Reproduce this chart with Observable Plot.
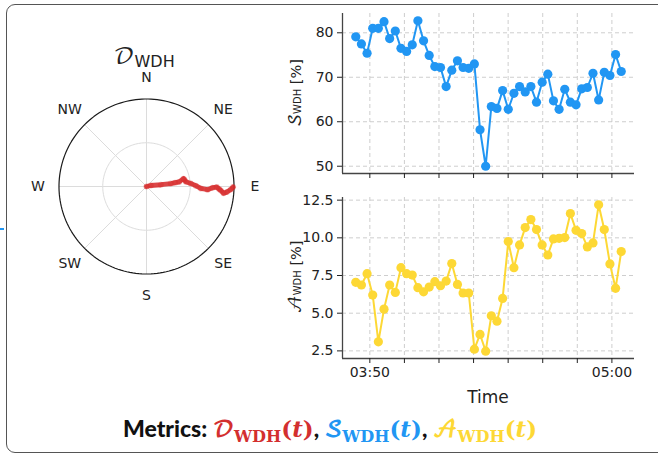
<!DOCTYPE html>
<html><head><meta charset="utf-8">
<script src="https://cdn.jsdelivr.net/npm/d3@7"></script>
<script src="https://cdn.jsdelivr.net/npm/@observablehq/plot@0.6"></script>
<style>
html,body{margin:0;padding:0;background:#fff;}
#root{position:relative;width:658px;height:454px;overflow:hidden;font-family:"DejaVu Sans",sans-serif;color:#222;}
.box{position:absolute;left:6px;top:4px;width:720px;height:449px;border:1.6px solid #555;border-radius:9px;box-sizing:border-box;}
.abs{position:absolute;}
.ctr{transform:translate(-50%,-50%);white-space:nowrap;}
.rot{transform:translate(-50%,-50%) rotate(-90deg);white-space:nowrap;}
.cal{font-family:"DejaVu Math TeX Gyre","Latin Modern Math","STIX Two Math","DejaVu Serif",serif;}
.sub{font-size:0.7em;vertical-align:-0.25em;}
.cap{font-family:Lato,"DejaVu Sans",sans-serif;font-weight:900;font-size:23px;color:#111;}
.cap .m{font-family:"DejaVu Serif",serif;font-weight:bold;}
.cap .m i{font-style:italic;}
</style></head>
<body><div id="root">
<div class="box"></div>
<div class="abs" style="left:0;top:228px;width:4px;height:2px;background:#2196f3;"></div>
<div id="polar" class="abs" style="left:15.7px;top:55.7px;"></div>
<div class="abs ctr" style="left:144px;top:57px;font-size:16px;line-height:1;"><span class="cal" style="font-size:23px;">𝒟</span><span style="position:relative;top:3px;">WDH</span></div>
<div id="top" class="abs" style="left:282px;top:0px;"></div>
<div id="bot" class="abs" style="left:282px;top:185px;"></div>
<div class="abs rot" style="left:297px;top:93px;font-size:14.5px;"><span class="cal" style="font-size:17px;">𝒮</span><span style="font-size:10px;">WDH</span> [%]</div>
<div class="abs rot" style="left:297px;top:277px;font-size:14.5px;"><span class="cal" style="font-size:17px;">𝒜</span><span style="font-size:10px;">WDH</span> [%]</div>
<div class="abs ctr" style="left:488px;top:397px;font-size:17px;">Time</div>
<div class="abs ctr cap" style="left:330px;top:430px;">Metrics: <span style="color:#d32f2f"><span class="cal">𝒟</span><span class="m sub">WDH</span><span class="m">(<i>t</i>)</span></span>, <span style="color:#2196f3"><span class="cal">𝒮</span><span class="m sub">WDH</span><span class="m">(<i>t</i>)</span></span>, <span style="color:#fdd835"><span class="cal">𝒜</span><span class="m sub">WDH</span><span class="m">(<i>t</i>)</span></span></div>
</div>
<script>
// ---- data ----
const times = ["03:45:56","03:47:34","03:49:12","03:50:50","03:52:28","03:54:06","03:55:44","03:57:22","03:59:00","04:00:38",
"04:02:16","04:03:54","04:05:32","04:07:10","04:08:48","04:10:26","04:12:04","04:13:42","04:15:20","04:16:58",
"04:18:36","04:20:14","04:21:52","04:23:30","04:25:08","04:26:46","04:28:24","04:30:02","04:31:40","04:33:18",
"04:34:56","04:36:34","04:38:12","04:39:50","04:41:28","04:43:06","04:44:44","04:46:22","04:48:00","04:49:38",
"04:51:16","04:52:54","04:54:32","04:56:10","04:57:48","04:59:26","05:01:04","05:02:42"];
const sValues = [79.1,77.5,75.4,81.0,81.0,82.5,78.7,80.4,76.5,75.8,77.3,82.7,78.2,74.9,72.4,72.2,67.9,71.6,73.7,72.2,
72.0,73.0,58.2,50.0,63.4,63.0,67.0,62.8,66.4,67.9,66.7,67.9,64.4,68.9,70.7,64.7,62.8,67.3,64.4,63.8,
67.4,67.7,70.9,64.9,71.1,70.4,75.1,71.3];
const aValues = [7.05,6.87,7.62,6.2,3.1,5.27,6.87,6.38,8.02,7.62,7.53,6.69,6.42,6.73,7.09,6.82,7.13,8.29,6.91,6.34,
6.34,2.61,3.59,2.48,4.83,4.47,5.98,9.75,8.02,9.53,10.68,11.21,10.55,9.53,8.86,9.93,9.97,10.02,11.61,10.5,
10.28,9.4,9.66,12.19,10.55,8.27,6.65,9.09];
const xTicks = ["03:50","04:00","04:10","04:20","04:30","04:40","04:50","05:00"];
const xTickLabels = ["03:50","05:00"];
const sTicks = [50,60,70,80];
const aTicks = [2.5,5.0,7.5,10.0,12.5];
const compassLabels = ["N","NE","E","SE","S","SW","W","NW"];
const compassAngles = [0,45,90,135,180,225,270,315];
const traceDir =    [80, 77, 83, 83, 82.5, 82, 78, 80, 83, 86, 89, 92, 93, 91, 90.5, 92, 93, 95, 94, 92, 90.4];
const traceRadius = [0, 0.05, 0.165, 0.28, 0.33, 0.376, 0.432, 0.44, 0.453, 0.507, 0.563, 0.621, 0.698, 0.755, 0.803, 0.83, 0.85, 0.884, 0.92, 0.964, 0.99];

const RED = "#d62728", BLUE = "#2196f3", YELLOW = "#fdd835";

// ---- helpers ----
const parseT = d3.utcParse("%H:%M:%S");
const parseHM = d3.utcParse("%H:%M");
const fmtHM = d3.utcFormat("%H:%M");
const tDates = times.map(parseT);
const tickDates = xTicks.map(parseHM);
const padExt = (ext) => { const s = (ext[1] - ext[0]) * 0.05; return [ext[0] - s, ext[1] + s]; };
const xe = d3.extent(tDates).map(Number);
const xDom = padExt(xe).map(v => new Date(v));

function panel(vals, color, yTicks, yFmt, showLabels, h, mt, mb) {
  const data = tDates.map((t, i) => ({t, v: vals[i]}));
  const yDom = padExt(d3.extent(vals));
  return Plot.plot({
    width: 376, height: h, marginLeft: 60, marginRight: 24, marginTop: mt, marginBottom: mb,
    style: {fontFamily: "DejaVu Sans", fontSize: "14px", color: "#222", background: "transparent", overflow: "visible"},
    x: {type: "utc", domain: xDom},
    y: {domain: yDom},
    marks: [
      Plot.gridX(tickDates, {stroke: "#c8c8c8", strokeOpacity: 1, strokeDasharray: "4,3", strokeWidth: 0.9}),
      Plot.gridY(yTicks, {stroke: "#c8c8c8", strokeOpacity: 1, strokeDasharray: "4,3", strokeWidth: 0.9}),
      Plot.ruleY([yDom[0]], {stroke: "#444", strokeWidth: 1.3}),
      Plot.ruleX([xDom[0]], {stroke: "#444", strokeWidth: 1.3}),
      Plot.axisX(tickDates, {tickSize: 5, tickPadding: 4, label: null,
        tickFormat: d => (showLabels && xTickLabels.includes(fmtHM(d))) ? fmtHM(d) : ""}),
      Plot.axisY(yTicks, {tickSize: 5, tickPadding: 4, label: null, tickFormat: yFmt}),
      Plot.line(data, {x: "t", y: "v", stroke: color, strokeWidth: 2}),
      Plot.dot(data, {x: "t", y: "v", fill: color, r: 4.6})
    ]
  });
}

document.getElementById("top").append(panel(sValues, BLUE, sTicks, d3.format("d"), false, 190, 13, 17));
document.getElementById("bot").append(panel(aValues, YELLOW, aTicks, d3.format(".1f"), true, 200, 12, 27));

// ---- polar ----
const R = 45;
const trace = traceDir.map((d, i) => ({dir: d, r: traceRadius[i]}));
const polar = Plot.plot({
  width: 260, height: 260, margin: 42.5,
  style: {fontFamily: "DejaVu Sans", fontSize: "14px", color: "#222", background: "transparent", overflow: "visible"},
  projection: {type: "azimuthal-equidistant", rotate: [0, -90], clip: false, domain: d3.geoCircle().center([0, 90]).radius(R)()},
  marks: [
    Plot.geo([d3.geoCircle().center([0, 90]).radius(R / 2)()], {stroke: "#dcdcdc", fill: "none", strokeWidth: 1}),
    Plot.link(compassAngles, {x1: a => 180 - a, y1: () => 90, x2: a => 180 - a, y2: () => 90 - R, stroke: "#dcdcdc", strokeWidth: 1}),
    Plot.geo([d3.geoCircle().center([0, 90]).radius(R)()], {stroke: "#1a1a1a", fill: "none", strokeWidth: 1.2}),
    Plot.line(trace, {x: d => 180 - d.dir, y: d => 90 - R * d.r, stroke: RED, strokeWidth: 4.8, strokeOpacity: 0.85, strokeLinejoin: "round", strokeLinecap: "round"}),
    Plot.dot(trace, {x: d => 180 - d.dir, y: d => 90 - R * d.r, fill: RED, fillOpacity: 0.35, r: 3}),
    Plot.text(compassLabels, {x: (d, i) => 180 - compassAngles[i], y: () => 90 - R * 1.24, text: d => d, fontSize: 14, fill: "#222"})
  ]
});
document.getElementById("polar").append(polar);
</script>
</body></html>
